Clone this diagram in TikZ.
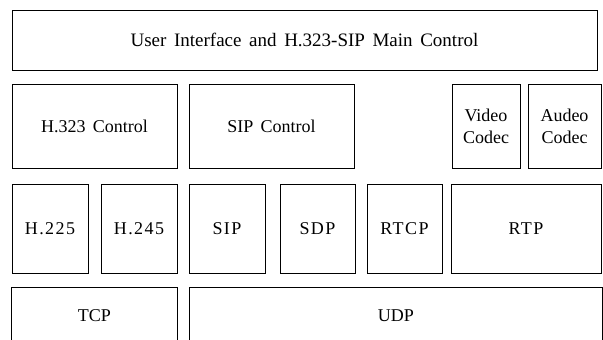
\documentclass[tikz,border=0pt]{standalone}
\usepackage{fontspec}
\setmainfont{Liberation Serif}[WordSpace=1.6]
\begin{document}
\begin{tikzpicture}[x=1pt,y=-1pt,
  box/.style={draw=black, line width=1pt, rectangle, inner sep=0pt, align=center,
    font=\fontsize{18}{22}\selectfont},
  lbl/.style={rectangle, inner sep=0pt, align=center,
    font=\fontsize{18}{22}\selectfont},
  wide/.append style={font=\fontsize{18}{22}\selectfont\addfontfeatures{LetterSpace=8}}]
\path[use as bounding box] (0,0) rectangle (603,340);
% top
\node[box, minimum width=585pt, minimum height=60pt, font=\fontsize{19}{22}\selectfont] (main) at (304.5,40) {User Interface and H.323-SIP Main Control};
% row 2
\node[box, minimum width=165pt, minimum height=84pt] (h323c) at (94.5,126) {H.323 Control};
\node[box, minimum width=165pt, minimum height=84pt] (sipc) at (271.5,126) {SIP Control};
\node[box, minimum width=68pt, minimum height=84pt] (video) at (486,126) {Video\\Codec};
\node[box, minimum width=73pt, minimum height=84pt] (audeo) at (564.5,126) {Audeo\\Codec};
% row 3
\node[box, wide, minimum width=76pt, minimum height=89pt] (h225) at (50,228.5) {H.225};
\node[box, wide, minimum width=76pt, minimum height=89pt] (h245) at (139,228.5) {H.245};
\node[box, wide, minimum width=76pt, minimum height=89pt] (sip) at (227,228.5) {SIP};
\node[box, wide, minimum width=75pt, minimum height=89pt] (sdp) at (317.5,228.5) {SDP};
\node[box, wide, minimum width=75pt, minimum height=89pt] (rtcp) at (404.5,228.5) {RTCP};
\node[box, wide, minimum width=150pt, minimum height=89pt] (rtp) at (526,228.5) {RTP};
% row 4 (cut at bottom)
\node[lbl, minimum width=165pt, minimum height=56pt] (tcp) at (94.5,316) {TCP};
\node[lbl, minimum width=412pt, minimum height=56pt] (udp) at (396,316) {UDP};
\draw[line width=1pt] ([yshift=4pt]tcp.south west) |- (tcp.north east) -- ([yshift=4pt]tcp.south east);
\draw[line width=1pt] ([yshift=4pt]udp.south west) |- (udp.north east) -- ([yshift=4pt]udp.south east);
\end{tikzpicture}
\end{document}
